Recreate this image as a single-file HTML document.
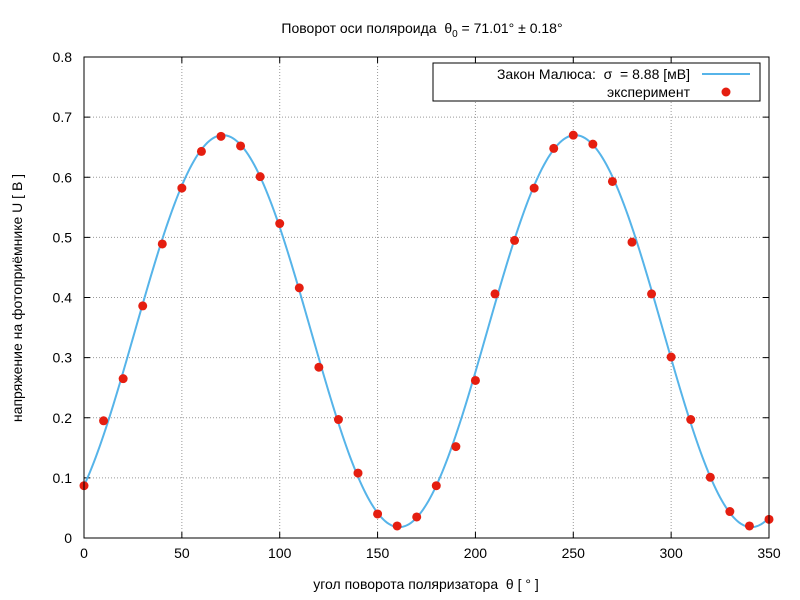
<!DOCTYPE html>
<html><head><meta charset="utf-8"><style>
body{margin:0;background:#fff;}
svg{display:block;font-family:"Liberation Sans",sans-serif;}
</style></head><body>
<svg id="s" width="800" height="600" xmlns="http://www.w3.org/2000/svg">
<rect width="800" height="600" fill="#fff"/>
<g id="grid"></g>
<g id="ticks" font-size="14" fill="#000"></g>
<path id="curve" fill="none" stroke="#56b4e9" stroke-width="2"/>
<g id="pts" fill="#e51e10"></g>
<rect x="84" y="57" width="685" height="481" fill="none" stroke="#000" stroke-width="1"/>
<text x="422" y="33" font-size="14" text-anchor="middle">Поворот оси поляроида&#160;&#160;θ<tspan font-size="10" dy="4">0</tspan><tspan dy="-4">&#160;= 71.01° ± 0.18°</tspan></text>
<text x="426" y="589" font-size="14" text-anchor="middle">угол поворота поляризатора&#160;&#160;θ [ ° ]</text>
<text transform="translate(22,298) rotate(-90)" font-size="14" text-anchor="middle">напряжение на фотоприёмнике U [ В ]</text>
<rect x="433" y="63" width="327" height="38" fill="#fff" stroke="#000"/>
<text x="690" y="79" font-size="14" text-anchor="end">Закон Малюса:&#160;&#160;σ&#160;&#160;= 8.88 [мВ]</text>
<line x1="702" y1="74" x2="750" y2="74" stroke="#56b4e9" stroke-width="2"/>
<text x="690" y="97" font-size="14" text-anchor="end">эксперимент</text>
<circle cx="726" cy="92" r="4.5" fill="#e51e10"/>
</svg>
<script>
var X=function(t){return 84+t*685/350},Y=function(u){return 538-u*481/0.8};
var g='',tk='';
for(var t=0;t<=350;t+=50){var x=X(t);if(t>0&&t<350)g+='<line x1="'+x+'" y1="57" x2="'+x+'" y2="538" stroke="#999" stroke-dasharray="1,2"/>';
g+='<line x1="'+x+'" y1="538" x2="'+x+'" y2="532" stroke="#000"/><line x1="'+x+'" y1="57" x2="'+x+'" y2="63" stroke="#000"/>';
tk+='<text x="'+x+'" y="558" text-anchor="middle">'+t+'</text>';}
for(var i=0;i<=8;i++){var y=Y(i/10);if(i>0&&i<8)g+='<line x1="84" y1="'+y+'" x2="769" y2="'+y+'" stroke="#999" stroke-dasharray="1,2"/>';
g+='<line x1="84" y1="'+y+'" x2="90" y2="'+y+'" stroke="#000"/><line x1="769" y1="'+y+'" x2="763" y2="'+y+'" stroke="#000"/>';
tk+='<text x="72" y="'+(y+5)+'" text-anchor="end">'+(i==0?'0':(i/10).toFixed(1))+'</text>';}
document.getElementById('grid').innerHTML=g;document.getElementById('ticks').innerHTML=tk;
var d='';for(var t=0;t<=350;t+=1){var c=Math.cos((t-71.01)*Math.PI/180);var u=0.652*c*c+0.018;d+=(t?'L':'M')+X(t).toFixed(2)+' '+Y(u).toFixed(2);}
document.getElementById('curve').setAttribute('d',d);
var v=[0.087,0.195,0.265,0.386,0.489,0.582,0.643,0.668,0.652,0.601,0.523,0.416,0.284,0.197,0.108,0.040,0.020,0.035,0.087,0.152,0.262,0.406,0.495,0.582,0.648,0.670,0.655,0.593,0.492,0.406,0.301,0.197,0.101,0.044,0.020,0.031];
var p='';for(var i=0;i<v.length;i++)p+='<circle cx="'+X(i*10)+'" cy="'+Y(v[i])+'" r="4.5"/>';
document.getElementById('pts').innerHTML=p;
</script>
</body></html>
